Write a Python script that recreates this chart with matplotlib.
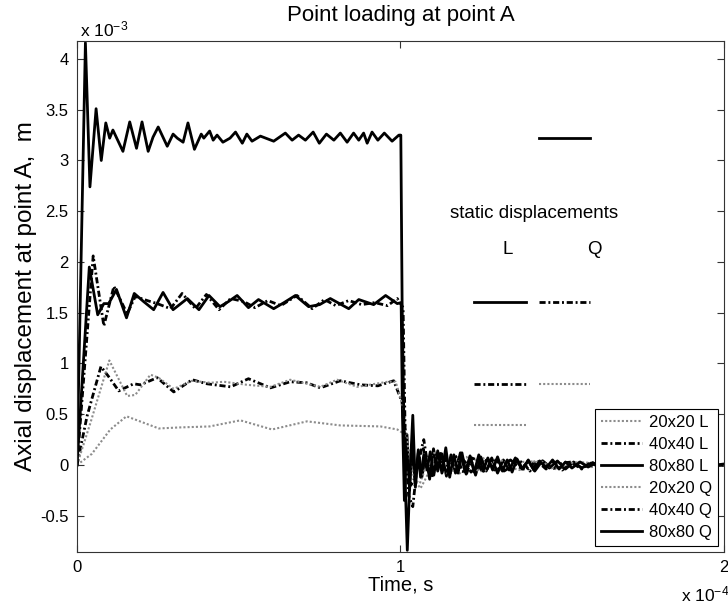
import matplotlib
matplotlib.use("Agg")
import matplotlib.pyplot as plt

plt.rcParams['font.family'] = ['Liberation Sans', 'DejaVu Sans']
plt.rcParams['mathtext.default'] = 'regular'
plt.rcParams['axes.unicode_minus'] = False

# time in units of 1e-4 s, displacement in units of 1e-3 m
t_20L = [0, 0.046, 0.103, 0.153, 0.253, 0.316, 0.410, 0.505, 0.603, 0.711, 0.814, 0.938, 0.990, 1.010,
         1.020, 1.035, 1.050, 1.062, 1.080, 1.100, 1.120, 1.140, 1.160, 1.180, 1.205, 1.230, 1.255, 1.280,
         1.305, 1.330, 1.360, 1.390, 1.420, 1.450, 1.480, 1.515, 1.550, 1.590, 1.630, 1.670, 1.715, 1.760,
         1.810, 1.860, 1.920, 2.000]
u_20L = [0, 0.11, 0.35, 0.48, 0.36, 0.37, 0.38, 0.44, 0.35, 0.43, 0.39, 0.38, 0.35, 0.31,
         0.15, -0.05, -0.18, -0.23, -0.12, 0.04, 0.10, 0.05, -0.05, -0.09, -0.03, 0.05, 0.07, 0.01,
         -0.05, -0.05, 0.01, 0.04, 0.03, -0.02, -0.04, -0.01, 0.03, 0.02, -0.02, -0.02, 0.01, 0.02,
         -0.01, -0.01, 0.01, 0.00]

t_40L = [0, 0.031, 0.074, 0.098, 0.129, 0.175, 0.196, 0.248, 0.299, 0.356, 0.402, 0.475, 0.530, 0.598,
         0.659, 0.710, 0.752, 0.814, 0.876, 0.930, 0.979, 1.005,
         1.012, 1.022, 1.032, 1.045, 1.058, 1.070, 1.083, 1.096, 1.110, 1.124, 1.138, 1.152, 1.168, 1.184,
         1.200, 1.218, 1.236, 1.255, 1.275, 1.295, 1.318, 1.340, 1.365, 1.390, 1.415, 1.440, 1.470, 1.500,
         1.530, 1.560, 1.595, 1.630, 1.670, 1.710, 1.760, 1.810, 1.870, 1.930, 2.000]
u_40L = [0, 0.48, 0.97, 0.87, 0.73, 0.80, 0.79, 0.86, 0.72, 0.84, 0.80, 0.77, 0.85, 0.76,
         0.82, 0.81, 0.76, 0.83, 0.79, 0.78, 0.83, 0.62,
         0.30, 0.02, -0.20, -0.12, 0.08, 0.16, 0.02, -0.10, -0.04, 0.10, 0.06, -0.08, -0.05, 0.08,
         0.03, -0.07, -0.02, 0.06, 0.02, -0.06, 0.00, 0.05, -0.02, -0.05, 0.03, 0.04, -0.04, 0.02,
         0.03, -0.03, 0.02, -0.02, 0.02, -0.02, 0.02, -0.01, 0.02, -0.01, 0.00]

t_80L = [0, 0.038, 0.064, 0.083, 0.098, 0.122, 0.153, 0.177, 0.206, 0.237, 0.266, 0.297, 0.341, 0.377,
         0.408, 0.442, 0.468, 0.495, 0.530, 0.561, 0.608, 0.640, 0.675, 0.716, 0.750, 0.783, 0.840, 0.871,
         0.917, 0.954, 0.990, 1.002,
         1.006, 1.012, 1.020, 1.028, 1.036, 1.045, 1.055, 1.066, 1.078, 1.090, 1.102, 1.115, 1.128, 1.142,
         1.156, 1.170, 1.185, 1.200, 1.215, 1.232, 1.248, 1.265, 1.282, 1.300, 1.318, 1.336, 1.355, 1.375,
         1.395, 1.415, 1.438, 1.460, 1.485, 1.510, 1.535, 1.560, 1.590, 1.620, 1.650, 1.690, 1.730, 1.770,
         1.810, 1.850, 1.900, 1.950, 2.000]
u_80L = [0, 1.95, 1.48, 1.59, 1.59, 1.73, 1.45, 1.69, 1.61, 1.53, 1.70, 1.53, 1.64, 1.53,
         1.67, 1.56, 1.61, 1.67, 1.55, 1.63, 1.54, 1.60, 1.67, 1.56, 1.58, 1.64, 1.54, 1.63,
         1.58, 1.67, 1.59, 1.60,
         0.50, -0.35, 0.30, -0.25, 0.20, -0.18, 0.15, -0.12, 0.10, -0.14, 0.16, -0.06, 0.11, -0.11,
         0.10, -0.08, 0.12, -0.07, 0.09, -0.10, 0.08, -0.06, 0.07, -0.08, 0.05, -0.05, 0.07, -0.04,
         0.04, -0.06, 0.04, -0.03, 0.04, -0.04, 0.03, -0.03, 0.02, -0.03, 0.03, -0.02, 0.02, -0.02,
         0.03, -0.02, 0.02, -0.02, 0.00]

t_20Q = [0, 0.041, 0.100, 0.155, 0.180, 0.227, 0.252, 0.299, 0.356, 0.412, 0.454, 0.526, 0.598, 0.659,
         0.752, 0.804, 0.866, 0.960, 0.985, 1.010,
         1.020, 1.032, 1.045, 1.060, 1.075, 1.090, 1.105, 1.120, 1.135, 1.150, 1.168, 1.186, 1.204, 1.222,
         1.240, 1.260, 1.280, 1.300, 1.322, 1.345, 1.368, 1.392, 1.416, 1.440, 1.468, 1.496, 1.526, 1.556,
         1.590, 1.625, 1.660, 1.700, 1.745, 1.790, 1.840, 1.890, 1.945, 2.000]
u_20Q = [0, 0.41, 1.03, 0.68, 0.69, 0.89, 0.86, 0.75, 0.83, 0.81, 0.82, 0.79, 0.77, 0.84,
         0.77, 0.84, 0.77, 0.82, 0.82, 0.55,
         0.25, 0.00, -0.15, -0.18, -0.05, 0.08, 0.12, 0.03, -0.07, -0.10, -0.02, 0.06, 0.08, 0.01,
         -0.06, -0.06, 0.01, 0.05, 0.04, -0.03, -0.05, 0.00, 0.04, 0.03, -0.03, -0.03, 0.02, 0.03,
         -0.02, -0.02, 0.02, 0.02, -0.02, -0.01, 0.02, 0.01, -0.01, 0.00]

t_40Q = [0, 0.050, 0.083, 0.114, 0.155, 0.180, 0.217, 0.248, 0.289, 0.325, 0.366, 0.400, 0.439, 0.475,
         0.516, 0.550, 0.590, 0.630, 0.680, 0.727, 0.765, 0.800, 0.840, 0.880, 0.920, 0.960, 0.990, 1.008,
         1.015, 1.025, 1.038, 1.050, 1.060, 1.072, 1.085, 1.097, 1.110, 1.122, 1.135, 1.148, 1.162, 1.176,
         1.190, 1.205, 1.220, 1.236, 1.252, 1.268, 1.285, 1.302, 1.320, 1.340, 1.360, 1.380, 1.400, 1.425,
         1.450, 1.475, 1.500, 1.530, 1.560, 1.590, 1.625, 1.660, 1.700, 1.740, 1.780, 1.830, 1.880, 1.940,
         2.000]
u_40Q = [0, 2.06, 1.37, 1.76, 1.49, 1.66, 1.62, 1.59, 1.54, 1.69, 1.54, 1.68, 1.53, 1.64,
         1.61, 1.55, 1.62, 1.57, 1.67, 1.54, 1.63, 1.57, 1.62, 1.58, 1.60, 1.57, 1.64, 1.55,
         0.20, -0.30, -0.41, -0.05, 0.10, 0.25, -0.02, -0.12, 0.08, 0.13, -0.05, -0.10, 0.06, 0.09,
         -0.06, -0.08, 0.07, 0.05, -0.07, -0.04, 0.06, 0.03, -0.06, -0.02, 0.05, 0.02, -0.06, 0.03,
         -0.04, 0.03, -0.05, 0.02, -0.04, 0.03, -0.03, 0.02, -0.03, 0.02, -0.02, 0.02, -0.02, 0.01,
         0.00]

t_80Q = [0, 0.026, 0.040, 0.059, 0.075, 0.089, 0.101, 0.111, 0.142, 0.163, 0.184, 0.201, 0.220, 0.235,
         0.251, 0.279, 0.297, 0.310, 0.328, 0.343, 0.363, 0.384, 0.392, 0.410, 0.421, 0.433, 0.451, 0.473,
         0.490, 0.511, 0.525, 0.541, 0.567, 0.608, 0.644, 0.665, 0.685, 0.706, 0.730, 0.749, 0.771, 0.794,
         0.814, 0.835, 0.855, 0.871, 0.886, 0.897, 0.912, 0.930, 0.950, 0.974, 0.995, 1.001,
         1.005, 1.012, 1.021, 1.030, 1.038, 1.046, 1.055, 1.062, 1.072, 1.082, 1.092, 1.103, 1.115, 1.128,
         1.140, 1.152, 1.165, 1.178, 1.190, 1.203, 1.215, 1.228, 1.242, 1.255, 1.270, 1.285, 1.300, 1.315,
         1.330, 1.345, 1.360, 1.378, 1.395, 1.412, 1.430, 1.450, 1.470, 1.490, 1.510, 1.530, 1.555, 1.580,
         1.610, 1.640, 1.670, 1.700, 1.740, 1.780, 1.820, 1.860, 1.900, 1.950, 2.000]
u_80Q = [0, 4.16, 2.74, 3.51, 3.00, 3.37, 3.22, 3.30, 3.09, 3.38, 3.12, 3.38, 3.09, 3.23,
         3.33, 3.14, 3.26, 3.22, 3.18, 3.37, 3.11, 3.26, 3.22, 3.29, 3.20, 3.25, 3.18, 3.22,
         3.28, 3.17, 3.26, 3.19, 3.24, 3.19, 3.27, 3.20, 3.25, 3.20, 3.28, 3.17, 3.26, 3.20,
         3.27, 3.18, 3.27, 3.20, 3.27, 3.17, 3.28, 3.20, 3.27, 3.19, 3.25, 3.25,
         1.60, 0.10, -0.84, -0.05, 0.49, -0.22, 0.12, -0.12, 0.10, -0.05, 0.13, -0.10, 0.14, -0.08,
         0.17, -0.12, 0.10, -0.08, 0.12, -0.09, 0.08, -0.07, 0.10, -0.06, 0.07, -0.05, 0.08, -0.06,
         0.05, -0.07, 0.06, -0.04, 0.05, -0.05, 0.04, -0.03, 0.05, -0.04, 0.03, -0.03, 0.03, -0.02,
         0.03, -0.03, 0.02, -0.02, 0.03, -0.02, 0.02, -0.02, 0.02, -0.01, 0.01]

# static solutions, drawn as short bars in two columns
static_L = [0.39, 0.80, 1.61]   # 20x20, 40x40, 80x80
static_Q = [0.80, 1.61, 3.22]
col_L = (1.226, 1.387)
col_Q = (1.427, 1.585)

gray = '#8c8c8c'
dot = (0, (1, 1))
dashdot = (0, (2.2, 1.0, 0.7, 1.0))

fig = plt.figure(figsize=(7.28, 6.06), dpi=100)
ax = fig.add_axes([77 / 728, 1 - 552 / 606, (724 - 77) / 728, (552 - 40.7) / 606])

ax.plot(t_20L, u_20L, color=gray, ls=dot, lw=1.5, label='20x20 L')
ax.plot(t_40L, u_40L, color='k', ls=dashdot, lw=2.0, label='40x40 L')
ax.plot(t_80L, u_80L, color='k', ls='-', lw=2.0, label='80x80 L')
ax.plot(t_20Q, u_20Q, color=gray, ls=dot, lw=1.5, label='20x20 Q')
ax.plot(t_40Q, u_40Q, color='k', ls=dashdot, lw=2.0, label='40x40 Q')
ax.plot(t_80Q, u_80Q, color='k', ls='-', lw=2.0, label='80x80 Q')

styles = [(gray, dot, 1.5), ('k', dashdot, 2.0), ('k', '-', 2.0)]
for v, (c, ls, lw) in zip(static_L, styles):
    ax.plot(col_L, [v, v], color=c, ls=ls, lw=lw)
for v, (c, ls, lw) in zip(static_Q, styles):
    ax.plot(col_Q, [v, v], color=c, ls=ls, lw=lw)

ax.text(1.412, 2.48, 'static displacements', ha='center', va='center', fontsize=13.5)
ax.text(1.331, 2.12, 'L', ha='center', va='center', fontsize=13.5)
ax.text(1.598, 2.12, 'Q', ha='center', va='center', fontsize=13.5)

ax.set_xlim(0, 2)
ax.set_ylim(-0.857, 4.18)
ax.set_xticks([0, 1, 2])
ax.set_xticklabels(['0', '1', '2'])
ax.set_yticks([-0.5, 0, 0.5, 1, 1.5, 2, 2.5, 3, 3.5, 4])
ax.set_yticklabels(['-0.5', '0', '0.5', '1', '1.5', '2', '2.5', '3', '3.5', '4'])
ax.tick_params(direction='in', length=5, width=0.8, labelsize=12, top=True, right=True,
               color='#333333', pad=6)
for s in ax.spines.values():
    s.set_color('#333333')
    s.set_linewidth(0.8)

ax.set_title('Point loading at point A', fontsize=16, pad=14)
ax.set_xlabel('Time, s', fontsize=14.5, labelpad=0)
ax.set_ylabel('Axial displacement at point A,  m', fontsize=17.5, labelpad=2)

fig.text(80 / 728, 1 - 36 / 606, r'x 10$^{-3}$', fontsize=12.5, va='baseline')
fig.text(681 / 728, 1 - 601 / 606, r'x 10$^{-4}$', fontsize=12.5, va='baseline')

leg = ax.legend(loc='lower right', bbox_to_anchor=(718 / 728, 1 - 546 / 606),
                bbox_transform=fig.transFigure, fontsize=12, frameon=True, fancybox=False,
                framealpha=1, edgecolor='k', borderaxespad=0, handlelength=2.5,
                handletextpad=0.4, labelspacing=0.42, borderpad=0.35)
leg.get_frame().set_linewidth(0.8)

fig.savefig('out.png', dpi=100)
